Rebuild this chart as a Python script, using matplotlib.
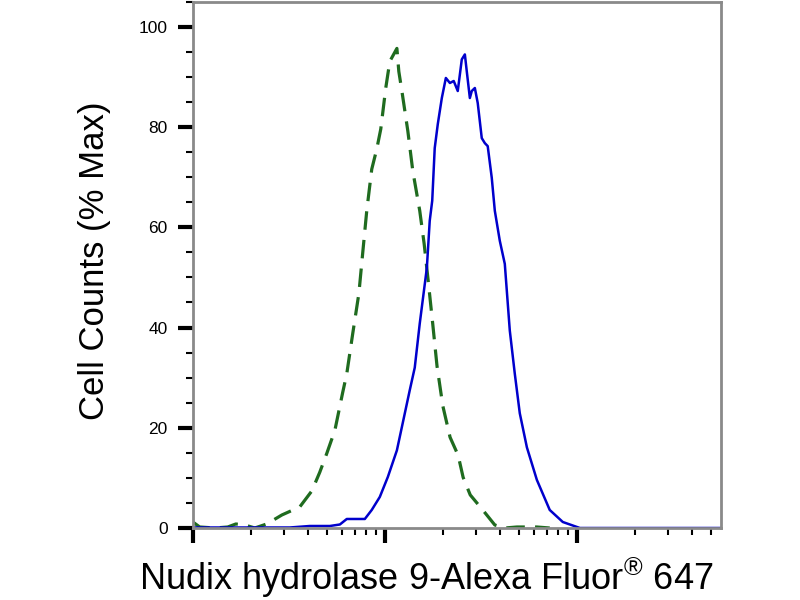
import matplotlib
matplotlib.use("Agg")
import matplotlib.pyplot as plt
import numpy as np
from matplotlib.ticker import MultipleLocator, LogLocator, NullFormatter

plt.rcParams['font.family'] = ['Liberation Sans', 'DejaVu Sans']
plt.rcParams['mathtext.fontset'] = 'custom'
plt.rcParams['mathtext.rm'] = 'Liberation Sans'

# isotype control (green dashed) - log10 intensity, % max
iso_log = [2.000, 2.036, 2.115, 2.182, 2.224, 2.271, 2.323, 2.385, 2.464, 2.557,
           2.620, 2.661, 2.698, 2.740, 2.781, 2.802, 2.833, 2.865, 2.885, 2.906,
           2.932, 2.958, 2.979, 3.005, 3.026, 3.063, 3.073, 3.089, 3.120, 3.146,
           3.182, 3.205, 3.228, 3.250, 3.272, 3.302, 3.340, 3.382, 3.408, 3.445,
           3.510, 3.573, 3.625, 3.688, 3.792, 3.859]
iso_pct = [1.2, 0.2, 0.0, 0.2, 0.8, 0.6, 0.0, 0.8, 2.6, 4.2,
           7.4, 11.1, 14.9, 19.5, 27.1, 30.8, 38.8, 46.8, 54.9, 63.3,
           71.6, 75.6, 79.6, 87.8, 93.1, 95.7, 91.1, 87.2, 79.2, 71.2,
           63.3, 56.7, 48.6, 40.6, 32.3, 24.4, 18.1, 14.5, 10.1, 6.6,
           3.6, 0.6, 0.0, 0.2, 0.2, 0.0]

# Nudix hydrolase 9 stained (blue solid)
nud_log = [2.000, 2.505, 2.609, 2.714, 2.766, 2.802, 2.896, 2.932, 2.974, 3.016,
           3.063, 3.130, 3.156, 3.182, 3.219, 3.234, 3.247, 3.260, 3.276, 3.297,
           3.318, 3.339, 3.359, 3.380, 3.401, 3.417, 3.427, 3.443, 3.453, 3.469,
           3.484, 3.505, 3.521, 3.536, 3.557, 3.573, 3.599, 3.625, 3.651, 3.677,
           3.703, 3.740, 3.792, 3.859, 3.927, 4.016, 4.760]
nud_pct = [0.1, 0.1, 0.4, 0.4, 0.7, 1.8, 1.8, 3.6, 6.2, 10.2,
           15.5, 27.5, 32.0, 40.8, 51.9, 61.3, 65.3, 75.8, 80.6, 85.8,
           89.8, 88.8, 89.2, 87.2, 93.5, 94.5, 91.1, 85.8, 87.2, 87.8,
           84.8, 77.8, 76.8, 76.2, 69.9, 63.3, 57.3, 52.7, 39.4, 30.8,
           22.9, 16.1, 9.6, 3.6, 1.2, 0.0, 0.0]

yticks = [0, 20, 40, 60, 80, 100]

fig = plt.figure(figsize=(8, 6), dpi=100)
ax = fig.add_axes([0.241, 0.12, 0.660, 0.877])

ax.plot(10 ** np.array(iso_log), iso_pct, color='#1f6b1f', lw=2.3,
        dashes=(5.8, 3.2))
ax.plot(10 ** np.array(nud_log), nud_pct, color='#0000cc', lw=1.8)

ax.set_xscale('log')
ax.set_xlim(100, 10 ** 4.75)
ax.set_ylim(0, 105)
ax.xaxis.set_major_locator(LogLocator(base=10))
ax.xaxis.set_minor_locator(LogLocator(base=10, subs=np.arange(2, 10)))
ax.xaxis.set_major_formatter(NullFormatter())
ax.xaxis.set_minor_formatter(NullFormatter())
ax.set_yticks(yticks)
ax.yaxis.set_minor_locator(MultipleLocator(5))

ax.tick_params(axis='both', which='major', direction='out', color='black',
               width=3, length=11, labelsize=12.5, pad=7)
ax.tick_params(axis='both', which='minor', direction='out', color='black',
               width=1.5, length=5)

for s in ax.spines.values():
    s.set_color('#8a8a8a')
    s.set_linewidth(2)

fig.text(0.118, 0.565, 'Cell Counts (% Max)', rotation=90, ha='center',
         va='center', fontsize=25)
fig.text(0.533, 0.037, 'Nudix hydrolase 9-Alexa Fluor$^{\u00ae}$ 647',
         ha='center', va='center', fontsize=26)

plt.savefig('out.png', dpi=100)
